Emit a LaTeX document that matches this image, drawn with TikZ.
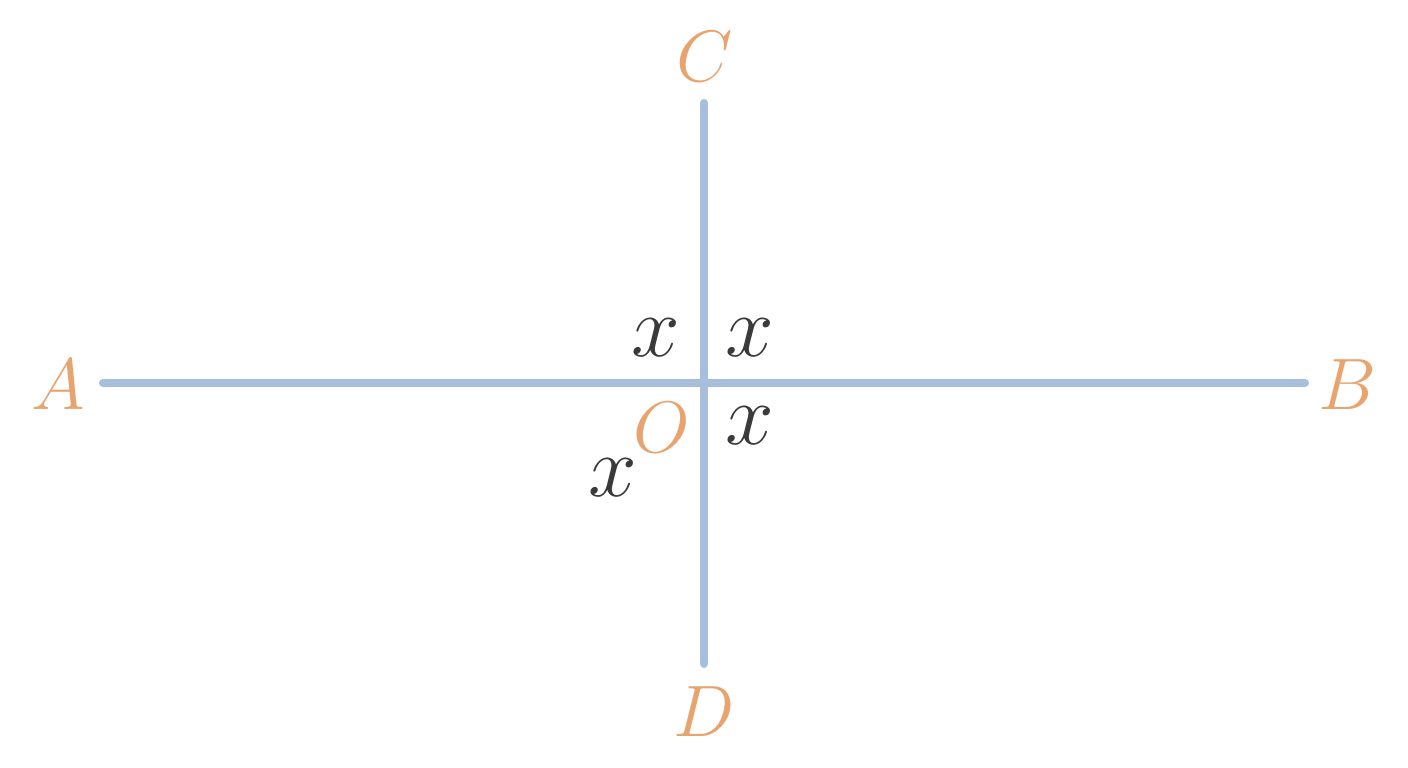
\documentclass[tikz,border=0pt]{standalone}
\definecolor{lineblue}{HTML}{A7BFDA}
\definecolor{ptorange}{HTML}{E8A46E}
\definecolor{angdark}{HTML}{3A3A3A}
\tikzset{
  axis/.style={lineblue, line width=2.3pt, line cap=round},
  ptlabel/.style={ptorange, font=\fontsize{21}{25}\selectfont, inner sep=0pt},
  anglabel/.style={angdark, font=\fontsize{23}{27}\selectfont, inner sep=0pt}
}

\begin{document}
\begin{tikzpicture}
\useasboundingbox (0,0) rectangle (14.08,7.68);
%\fill[white] (0,0) rectangle (14.08,7.68);

\coordinate (o) at (7.04,3.85);
\coordinate (a) at (1.03,3.85);
\coordinate (b) at (13.05,3.85);
\coordinate (c) at (7.04,6.65);
\coordinate (d) at (7.04,1.04);

\draw[axis] (a) -- (b);
\draw[axis] (c) -- (d);

\node[ptlabel] (la) at (0.58,3.83) {$A$};
\node[ptlabel] (lb) at (13.47,3.83) {$B$};
\node[ptlabel] (lc) at (7.05,7.11) {$C$};
\node[ptlabel] (ld) at (7.04,0.56) {$D$};
\node[ptlabel] (lo) at (6.62,3.40) {$O$};

\node[anglabel] (x1) at (6.56,4.30) {$x$};
\node[anglabel] (x2) at (7.50,4.30) {$x$};
\node[anglabel] (x3) at (7.50,3.42) {$x$};
\node[anglabel] (x4) at (6.13,2.90) {$x$};

\end{tikzpicture}
\end{document}
